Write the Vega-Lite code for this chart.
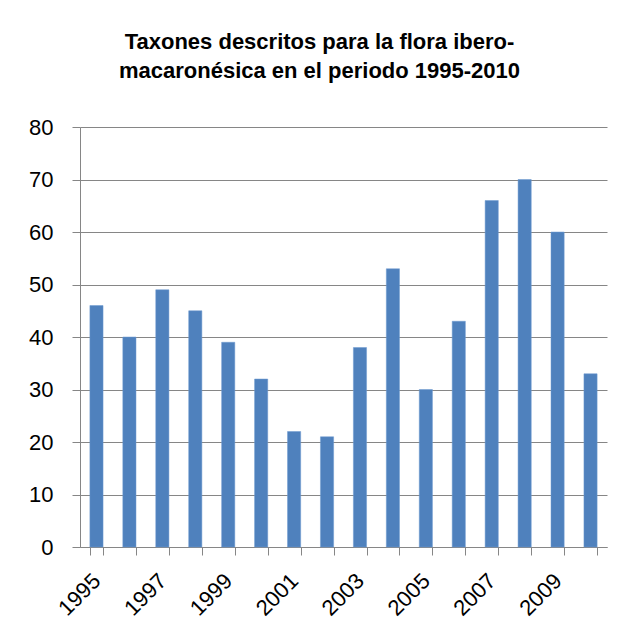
{
  "$schema": "https://vega.github.io/schema/vega-lite/v6.json",
  "autosize": {"type": "none"},
  "width": 527,
  "height": 420,
  "padding": {"left": 80, "top": 127, "right": 29, "bottom": 90},
  "background": "white",
  "title": {
    "text": ["Taxones descritos para la flora ibero-", "macaronésica en el periodo 1995-2010"],
    "font": "Liberation Sans",
    "fontSize": 22,
    "fontWeight": "bold",
    "color": "#000000",
    "anchor": "middle",
    "dx": -24,
    "offset": 33,
    "lineHeight": 29
  },
  "data": {
    "values": [
      {"year": "1995", "taxa": 46},
      {"year": "1996", "taxa": 40},
      {"year": "1997", "taxa": 49},
      {"year": "1998", "taxa": 45},
      {"year": "1999", "taxa": 39},
      {"year": "2000", "taxa": 32},
      {"year": "2001", "taxa": 22},
      {"year": "2002", "taxa": 21},
      {"year": "2003", "taxa": 38},
      {"year": "2004", "taxa": 53},
      {"year": "2005", "taxa": 30},
      {"year": "2006", "taxa": 43},
      {"year": "2007", "taxa": 66},
      {"year": "2008", "taxa": 70},
      {"year": "2009", "taxa": 60},
      {"year": "2010", "taxa": 33}
    ]
  },
  "mark": {"type": "bar", "color": "#4F81BD", "stroke": "#6F9AD0", "strokeWidth": 0.5},
  "encoding": {
    "x": {
      "field": "year",
      "type": "ordinal",
      "sort": null,
      "scale": {"paddingInner": 0.6, "paddingOuter": 0.3},
      "axis": {
        "title": null,
        "labelAngle": -45,
        "labelAlign": "right",
        "labelBaseline": "middle",
        "labelFont": "Liberation Sans",
        "labelFontSize": 22,
        "labelColor": "#000000",
        "labelPadding": 22,
        "labelExpr": "toNumber(datum.value) % 2 == 1 ? datum.label : ''",
        "tickBand": "extent",
        "tickSize": 8,
        "tickColor": "#868686",
        "domainColor": "#868686",
        "grid": false
      }
    },
    "y": {
      "field": "taxa",
      "type": "quantitative",
      "scale": {"domain": [0, 80], "nice": false},
      "axis": {
        "title": null,
        "values": [0, 10, 20, 30, 40, 50, 60, 70, 80],
        "labelFont": "Liberation Sans",
        "labelFontSize": 22,
        "labelColor": "#000000",
        "labelPadding": 19,
        "tickSize": 8,
        "tickColor": "#868686",
        "domainColor": "#868686",
        "grid": true,
        "gridColor": "#868686",
        "gridOpacity": 1
      }
    }
  },
  "config": {"view": {"stroke": null}}
}
